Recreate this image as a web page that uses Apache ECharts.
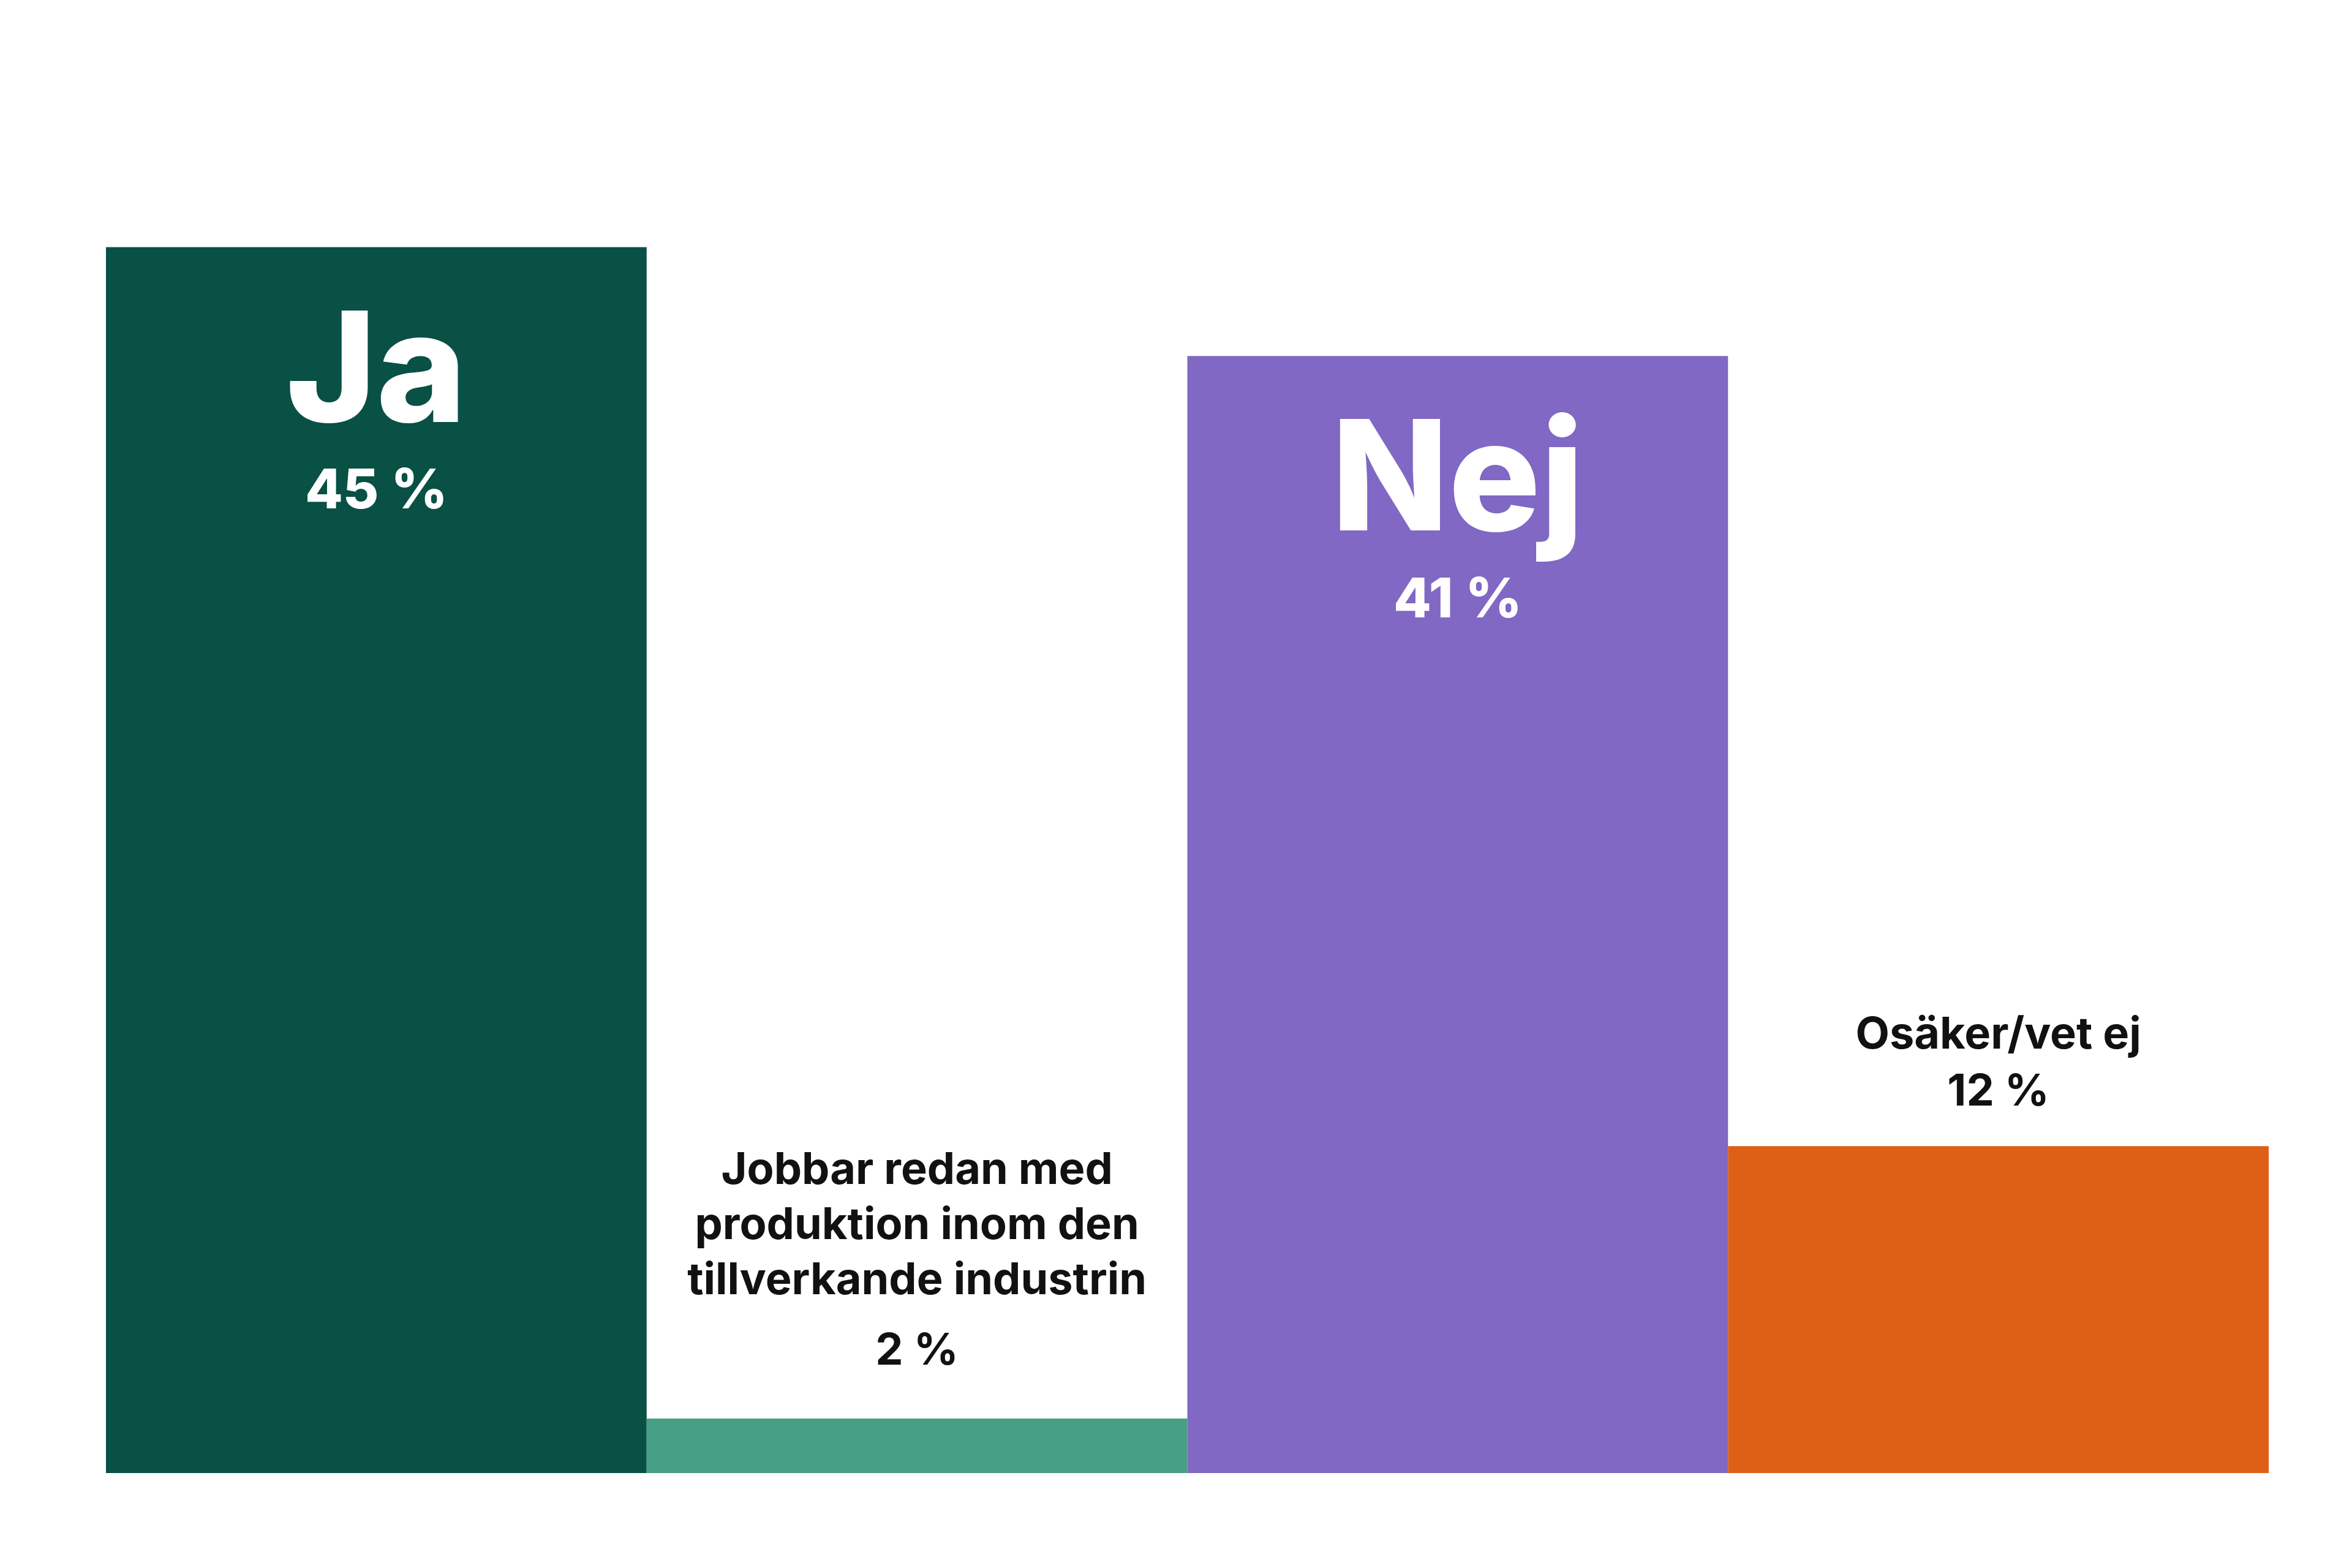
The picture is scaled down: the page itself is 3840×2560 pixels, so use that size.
<!DOCTYPE html>
<html><head><meta charset="utf-8">
<script src="https://cdn.jsdelivr.net/npm/echarts@6/dist/echarts.min.js"></script>
<style>html,body{margin:0;padding:0;background:#fff}#c{width:3840px;height:2560px}</style>
</head><body><div id="c"></div>
<script>
const categories = ['Ja', 'Jobbar redan med\nproduktion inom den\ntillverkande industrin', 'Nej', 'Osäker/vet ej'];
const values = [45, 2, 41, 12];
const colors = ['#095045', '#479f86', '#8068c4', '#de5f16'];
const bigLabel = [true, false, true, false];

const chart = echarts.init(document.getElementById('c'));
const data = values.map((v, i) => {
  const item = { value: v, itemStyle: { color: colors[i] } };
  if (bigLabel[i]) {
    item.label = {
      show: true, position: 'insideTop', distance: 95,
      formatter: '{a|' + categories[i] + '}\n{b|' + v + ' %}',
      rich: {
        a: { fontFamily: 'Inter', fontWeight: 800, fontSize: 250, color: '#fff', lineHeight: 230 },
        b: { fontFamily: 'Inter', fontWeight: 800, fontSize: 90, color: '#fff', lineHeight: 150 }
      }
    };
  } else {
    item.label = {
      show: true, position: 'top', distance: 40,
      formatter: '{a|' + categories[i] + '}\n{b|' + v + ' %}',
      rich: {
        a: { fontFamily: 'Inter', fontWeight: 700, fontSize: 72, color: '#111', lineHeight: 90 },
        b: { fontFamily: 'Inter', fontWeight: 700, fontSize: 72, color: '#111', lineHeight: i === 1 ? 140 : 96 }
      }
    };
  }
  return item;
});
chart.setOption({
  backgroundColor: '#fff',
  animation: false,
  grid: { left: 173, right: 136, top: 181, bottom: 155 },
  xAxis: { type: 'category', data: categories, axisLine: { show: false }, axisTick: { show: false }, axisLabel: { show: false } },
  yAxis: { type: 'value', min: 0, max: 50, show: false, splitLine: { show: false } },
  series: [{ type: 'bar', data: data, barCategoryGap: 0, barGap: 0 }]
});
</script></body></html>
